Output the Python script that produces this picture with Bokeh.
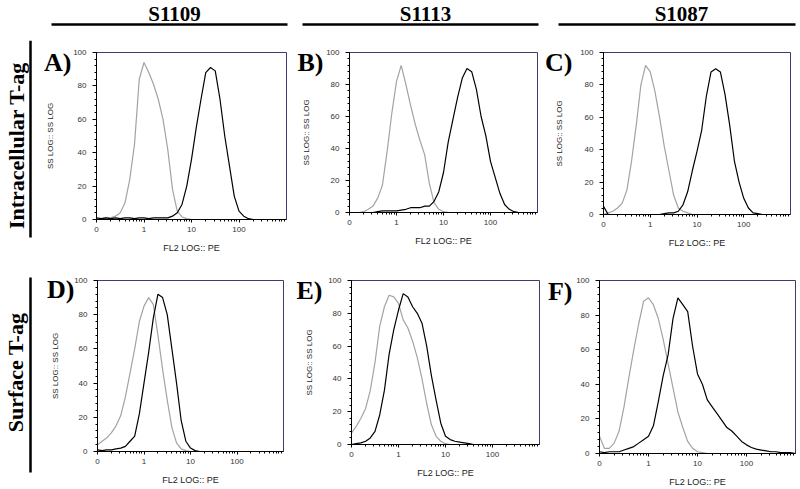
import numpy as np
from bokeh.plotting import figure
from bokeh.models import Range1d, FixedTicker, SingleIntervalTicker, LinearAxis
from bokeh.layouts import column, row
from bokeh.embed import file_html
from bokeh.resources import INLINE
from bokeh.core.properties import value

# ---------------- data ----------------
# histogram channel positions, log10 of FL2 intensity
LOG_X = [-1.0, -0.9, -0.8, -0.7, -0.6, -0.5, -0.4, -0.3, -0.2, -0.1,
         0.0, 0.1, 0.2, 0.3, 0.4, 0.5, 0.6, 0.7, 0.8, 0.9,
         1.0, 1.1, 1.2, 1.3, 1.4, 1.5, 1.6, 1.7, 1.8, 1.9,
         2.0, 2.1, 2.2, 2.3, 2.4, 2.5, 2.6, 2.7, 2.8, 2.9, 3.0]

COLUMN_TITLES = ["S1109", "S1113", "S1087"]
ROW_TITLES = ["Intracellular T-ag", "Surface T-ag"]
PANEL_LETTERS = ["A)", "B)", "C)", "D)", "E)", "F)"]
X_TICKS = [0.1, 1, 10, 100]
X_TICK_LABELS = ["0", "1", "10", "100"]
X_LABEL = "FL2 LOG:: PE"
Y_LABEL = "SS LOG:: SS LOG"

A_GRAY = [0, 0.5, 1, 1, 2, 4, 10, 24, 45, 84, 94, 88, 81, 72, 60, 42, 18, 5, 1.5, 0.5,
          0, 0, 0, 0, 0, 0, 0, 0, 0, 0, 0, 0, 0, 0, 0, 0, 0, 0, 0, 0, 0]
A_BLACK = [1, 0.5, 1, 0.5, 1, 0.5, 1, 1, 0.5, 1, 1, 0.5, 1, 1, 1,
           1, 2, 4, 9, 20, 36, 55, 72, 88, 91, 89, 72, 50, 32, 14, 5, 2, 0.5,
           0, 0, 0, 0, 0, 0, 0, 0]
B_GRAY = [0, 0, 0, 0.5, 2, 4, 9, 17, 38, 62, 82, 92, 80, 67, 55, 45, 36, 18, 6, 2, 0.5,
          0, 0, 0, 0, 0, 0, 0, 0, 0, 0, 0, 0, 0, 0, 0, 0, 0, 0, 0, 0]
B_BLACK = [0, 0, 0, 0, 0, 0, 0.5, 1, 1, 1, 1, 1.5, 2, 3, 3, 3, 4, 4, 7, 13,
           25, 44, 58, 72, 84, 90, 88, 77, 60, 48, 32, 22, 12, 5, 2, 0.5,
           0, 0, 0, 0, 0]
C_GRAY = [0, 1, 2, 4, 7, 15, 33, 55, 80, 92, 88, 76, 60, 42, 27, 12, 4, 2, 1,
          0, 0, 0, 0, 0, 0, 0, 0, 0, 0, 0, 0, 0, 0, 0, 0, 0, 0, 0, 0, 0, 0]
C_BLACK = [5, 0, 0, 0, 0, 0, 0, 0, 0, 0, 0, 0, 0,
           0.5, 1, 1, 2, 6, 14, 27, 39, 52, 73, 88, 90, 88, 74, 55, 33, 20, 10, 4, 1, 0.5,
           0, 0, 0, 0, 0, 0, 0]
D_GRAY = [4, 6, 8, 11, 15, 21, 32, 46, 60, 76, 85, 90, 86, 68, 48, 30, 14, 5, 1.5, 0.5,
          0, 0, 0, 0, 0, 0, 0, 0, 0, 0, 0, 0, 0, 0, 0, 0, 0, 0, 0, 0, 0]
D_BLACK = [1, 0.5, 1, 1, 1.5, 2, 3, 6, 9, 22, 40, 58, 78, 92, 90, 80, 60, 40, 18, 6, 2, 0.5,
           0, 0, 0, 0, 0, 0, 0, 0, 0, 0, 0, 0, 0, 0, 0, 0, 0, 0, 0]
E_GRAY = [7, 11, 16, 22, 33, 50, 72, 84, 91, 90, 86, 76, 71, 63, 53, 40, 25, 12, 5, 2, 0.5,
          0, 0, 0, 0, 0, 0, 0, 0, 0, 0, 0, 0, 0, 0, 0, 0, 0, 0, 0, 0]
E_BLACK = [0, 0.5, 1, 2, 4, 8, 18, 33, 55, 70, 82, 92, 90, 84, 80, 74, 60, 42, 27, 13,
           5, 3, 2, 1.5, 1, 0.5,
           0, 0, 0, 0, 0, 0, 0, 0, 0, 0, 0, 0, 0, 0, 0]
F_GRAY = [10, 3, 3, 6, 13, 27, 44, 60, 75, 88, 90, 86, 78, 66, 52, 38, 24, 15, 7, 3, 1, 0.5,
          0, 0, 0, 0, 0, 0, 0, 0, 0, 0, 0, 0, 0, 0, 0, 0, 0, 0, 0]
F_BLACK = [1, 0.5, 1, 1, 1, 2, 3, 4, 6, 8, 10, 16, 30, 45, 57, 78, 90, 86, 82, 62,
           46, 40, 31, 27, 23, 19, 15, 13, 10, 7, 5, 3.5, 2.5, 2, 1.5, 1, 1, 0.5, 0.5, 0.5, 0]

GRAY_SERIES = [A_GRAY, B_GRAY, C_GRAY, D_GRAY, E_GRAY, F_GRAY]
BLACK_SERIES = [A_BLACK, B_BLACK, C_BLACK, D_BLACK, E_BLACK, F_BLACK]

# ---------------- layout (page pixels) ----------------
W, H = 800, 489
HEADER_H = 40
LEFT_W = 32
COLS = [(32, 255), (287, 253), (540, 260)]      # page x0, width
ROWS = [(40, 222), (262, 227)]                  # page y0, height
# frame left, right, top, bottom (page px)
FRAMES = [(96, 286, 50, 217), (349, 537, 52, 212), (603, 790, 49, 211),
          (97, 283, 280, 451), (351, 539, 278, 442), (599, 795, 277, 450)]
LETTER_RIGHT = [72, 323, 573, 75, 322, 570]     # right edge of "A)" etc.
LETTER_MID_Y = [60, 62, 59, 289, 288, 288]      # vertical centre of letters
YLABEL_STANDOFF = [15, 12, 13, 11, 11, 0]
SHOW_YLABEL = [True, True, True, True, True, False]

SERIF = "Liberation Serif"
SANS = "Liberation Sans"
OUTLINE = "#3b3b78"

xs = [10 ** v for v in LOG_X]
MINOR = [m * 10.0 ** e for e in (-1, 0, 1, 2) for m in range(2, 10)]

Y_TICK_OUT, Y_LABEL_STANDOFF_TICK = 4, 6
TICK_LABEL_W = 13.3   # approx width of "100" at 8px
AXIS_LABEL_H = 9.2    # approx height of 8px axis label
AXIS_EXTRA = 5        # observed extra width Bokeh gives the y axis


def make_panel(i):
    r, c = divmod(i, 3)
    cx0, cw = COLS[c]
    ry0, rh = ROWS[r]
    fl, fr, ft, fb = FRAMES[i]
    p = figure(frame_width=fr - fl, frame_height=fb - ft, x_axis_type="log", title=None,
               x_range=Range1d(0.1, 1000), y_range=Range1d(0, 100),
               output_backend="svg", toolbar_location=None,
               min_border_left=fl - cx0, min_border_right=cx0 + cw - fr,
               min_border_top=ft - ry0, min_border_bottom=ry0 + rh - fb)
    p.xgrid.visible = False
    p.ygrid.visible = False
    p.outline_line_color = OUTLINE
    p.outline_line_width = 1
    p.background_fill_color = "white"
    p.border_fill_color = "white"

    p.line(xs, GRAY_SERIES[i], line_color="#a3a3a3", line_width=1.2)
    p.line(xs, BLACK_SERIES[i], line_color="black", line_width=1.2)

    xa = p.xaxis[0]
    xa.ticker = FixedTicker(ticks=X_TICKS, minor_ticks=MINOR)
    xa.major_label_overrides = {float(t): l for t, l in zip(X_TICKS, X_TICK_LABELS)}
    xa.axis_label = X_LABEL
    ya = p.yaxis[0]
    ya.ticker = SingleIntervalTicker(interval=20, num_minor_ticks=5)
    if SHOW_YLABEL[i]:
        ya.axis_label = Y_LABEL
    for ax in (xa, ya):
        ax.axis_line_color = "black"
        ax.axis_line_width = 1
        ax.major_tick_line_color = "black"
        ax.minor_tick_line_color = "black"
        ax.major_tick_in = 0
        ax.minor_tick_in = 0
        ax.major_label_text_font = SANS
        ax.major_label_text_font_size = "8px"
        ax.major_label_text_color = "#333333"
        ax.axis_label_text_font = SANS
        ax.axis_label_text_font_style = "normal"
        ax.axis_label_text_color = "#222222"
    xa.major_tick_out = 3
    xa.minor_tick_out = 2
    xa.major_label_standoff = 4
    xa.axis_label_text_font_size = "9px"
    xa.axis_label_standoff = 8
    ya.major_tick_out = Y_TICK_OUT
    ya.minor_tick_out = 2
    ya.major_label_standoff = Y_LABEL_STANDOFF_TICK
    ya.axis_label_text_font_size = "8px"
    ya.axis_label_standoff = YLABEL_STANDOFF[i]

    # panel letter: an extra, line-less left axis carrying one label
    w1 = Y_TICK_OUT + Y_LABEL_STANDOFF_TICK + TICK_LABEL_W + AXIS_EXTRA
    if SHOW_YLABEL[i]:
        w1 += YLABEL_STANDOFF[i] + AXIS_LABEL_H
    standoff = int(round((fl - w1) - LETTER_RIGHT[i]))
    y_mid = round((fb - LETTER_MID_Y[i]) / (fb - ft) * 100.0, 2)
    la = LinearAxis(ticker=FixedTicker(ticks=[y_mid]),
                    major_label_overrides={y_mid: PANEL_LETTERS[i]},
                    axis_line_color=None, major_tick_line_color=None,
                    minor_tick_line_color=None, major_tick_out=0, major_tick_in=0,
                    minor_tick_out=0, minor_tick_in=0,
                    major_label_standoff=standoff,
                    major_label_text_font=SERIF, major_label_text_font_style="bold",
                    major_label_text_font_size="26px", major_label_text_color="black")
    p.add_layout(la, "left")
    return p


panels = [make_panel(i) for i in range(6)]

# header with column titles and rules
header = figure(width=W, height=HEADER_H, x_range=Range1d(0, W), y_range=Range1d(HEADER_H, 0),
                output_backend="svg", toolbar_location=None, title=None,
                x_axis_location=None, y_axis_location=None, min_border=0)
header.grid.visible = False
header.outline_line_color = None
HEADER_X = [174, 425, 681]
RULES = [(51, 287), (302, 538), (558, 795)]
header.text(x=HEADER_X, y=[13.5, 13.5, 13.5], text=COLUMN_TITLES, text_font=value(SERIF),
            text_font_style="bold", text_font_size="21px", text_align="center",
            text_baseline="middle", text_color="black")
header.segment(x0=[a for a, b in RULES], x1=[b for a, b in RULES], y0=[24] * 3, y1=[24] * 3,
               line_color="black", line_width=2.5)

# left strip with row titles and rules
left_h = ROWS[0][1] + ROWS[1][1]
left = figure(width=LEFT_W, height=left_h, x_range=Range1d(0, LEFT_W), y_range=Range1d(left_h, 0),
              output_backend="svg", toolbar_location=None, title=None,
              x_axis_location=None, y_axis_location=None, min_border=0)
left.grid.visible = False
left.outline_line_color = None
left.text(x=[16, 15], y=[145 - 40, 372 - 40], text=ROW_TITLES, angle=[np.pi / 2] * 2,
          text_font=value(SERIF), text_font_style="bold", text_font_size="22px",
          text_align="center", text_baseline="middle", text_color="black")
left.segment(x0=[30, 30], x1=[30, 30], y0=[0, 237], y1=[197, 432],
             line_color="black", line_width=2.5)

layout = column(header, row(left, column(row(*panels[:3]), row(*panels[3:]))))

open("out.html", "w").write(file_html(layout, INLINE))
